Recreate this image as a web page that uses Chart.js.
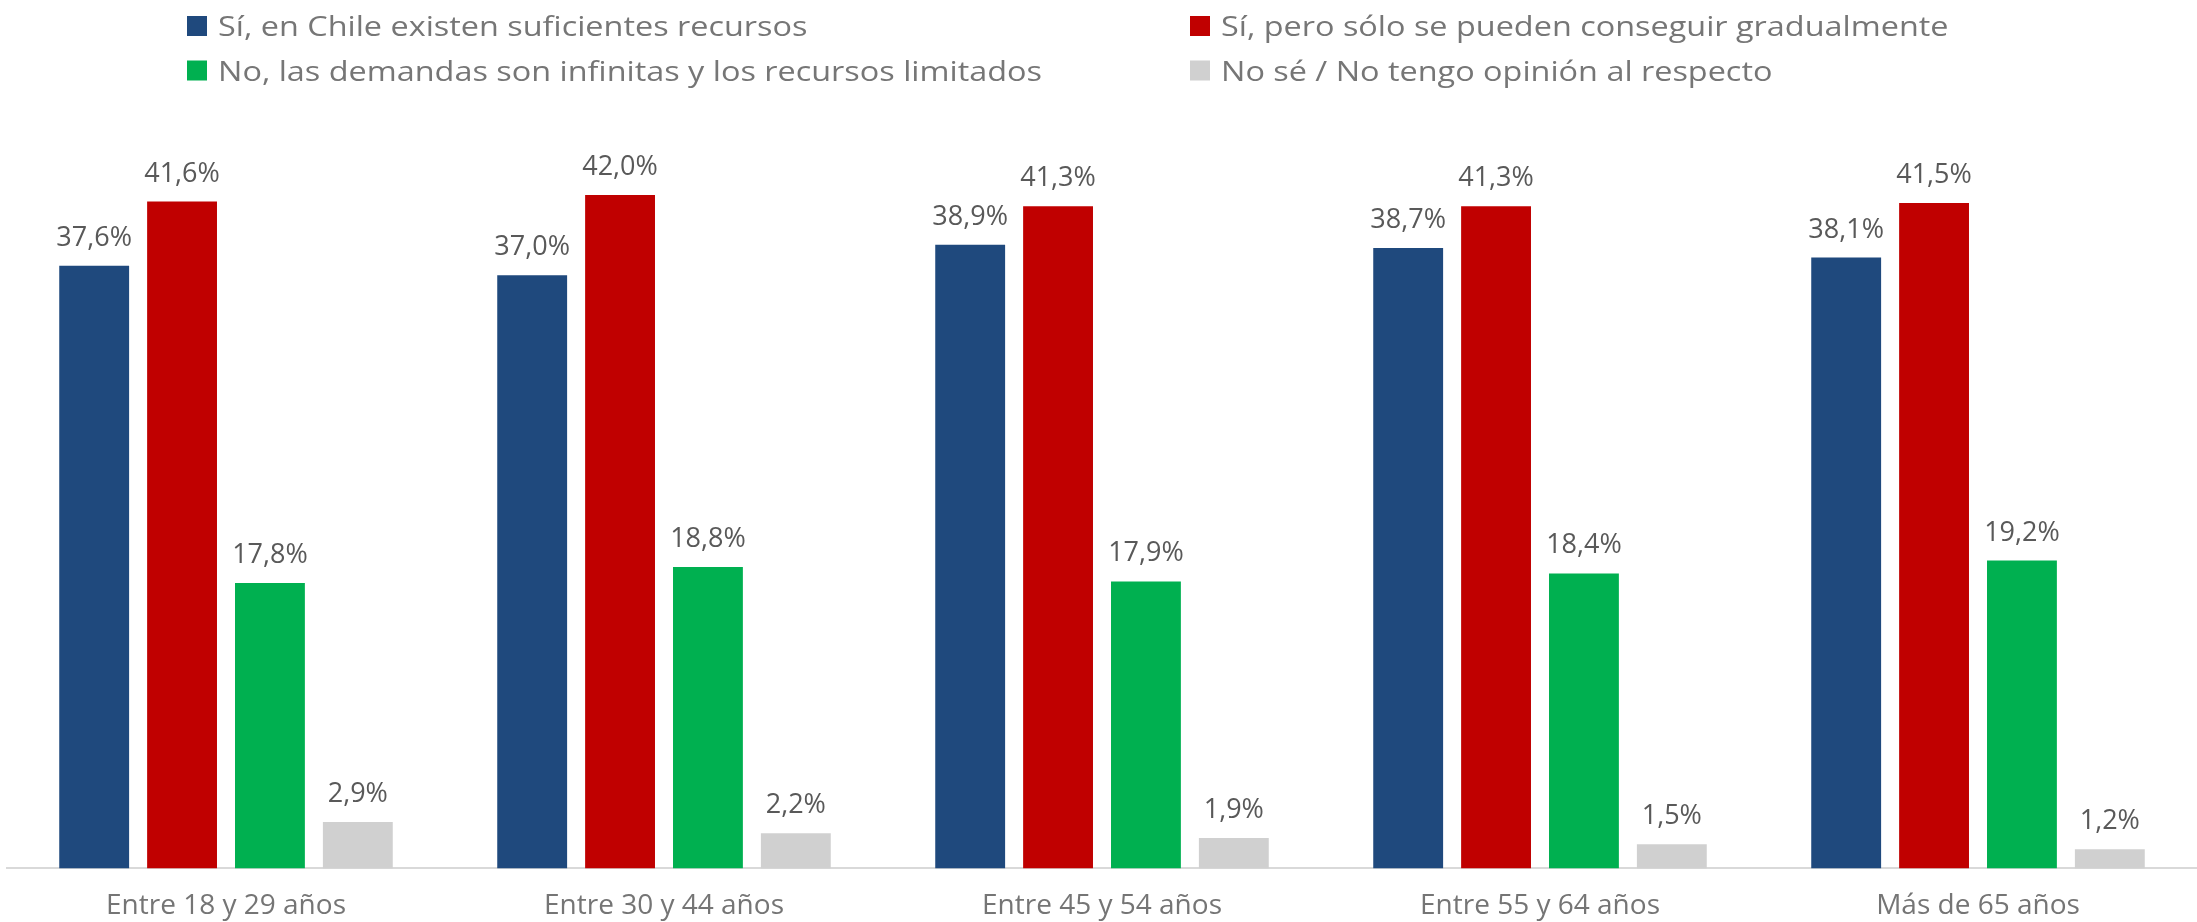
<!DOCTYPE html>
<html>
<head>
<meta charset="utf-8">
<script src="https://cdn.jsdelivr.net/npm/chart.js@4/dist/chart.umd.min.js"></script>
<style>
  html, body { margin: 0; padding: 0; background: #ffffff; }
  #c { display: block; }
</style>
</head>
<body>
<canvas id="c" width="2197" height="922"></canvas>
<script>
const categories = ["Entre 18 y 29 años", "Entre 30 y 44 años", "Entre 45 y 54 años", "Entre 55 y 64 años", "Más de 65 años"];
const seriesNames = [
  "Sí, en Chile existen suficientes recursos",
  "Sí, pero sólo se pueden conseguir gradualmente",
  "No, las demandas son infinitas y los recursos limitados",
  "No sé / No tengo opinión al respecto"
];
const suficientes = [37.6, 37.0, 38.9, 38.7, 38.1];
const gradualmente = [41.6, 42.0, 41.3, 41.3, 41.5];
const limitados = [17.8, 18.8, 17.9, 18.4, 19.2];
const noSabe = [2.9, 2.2, 1.9, 1.5, 1.2];
const colors = ["#1F497D", "#C00000", "#00B050", "#D0D0D0"];

const FONT = "'Open Sans', 'Liberation Sans', sans-serif";

const fmt = v => v.toFixed(1).replace('.', ',') + '%';

const dataLabelPlugin = {
  id: 'dataLabels',
  afterDatasetsDraw(chart) {
    const ctx = chart.ctx;
    ctx.save();
    ctx.font = "27px " + FONT;
    ctx.fillStyle = "#595959";
    ctx.textAlign = "center";
    ctx.textBaseline = "alphabetic";
    chart.data.datasets.forEach((ds, i) => {
      const meta = chart.getDatasetMeta(i);
      meta.data.forEach((bar, j) => {
        ctx.fillText(fmt(ds.data[j]), bar.x, bar.y - 20);
      });
    });
    ctx.restore();
  }
};

const gridLegendPlugin = {
  id: 'gridLegend',
  afterDraw(chart) {
    const ctx = chart.ctx;
    const colX = [187, 1190];
    const rowY = [26, 70.5];
    const box = 20;
    ctx.save();
    ctx.font = "27px " + FONT;
    ctx.textBaseline = "alphabetic";
    chart.data.datasets.forEach((ds, i) => {
      const col = i % 2, row = Math.floor(i / 2);
      const x = colX[col], cy = rowY[row];
      ctx.fillStyle = ds.backgroundColor;
      ctx.fillRect(x, cy - box / 2, box, box);
      ctx.fillStyle = "#767676";
      ctx.save();
      ctx.translate(x + box + 11, cy + 10);
      ctx.scale(1.2, 1);
      ctx.fillText(ds.label, 0, 0);
      ctx.restore();
    });
    ctx.restore();
  }
};

function draw() {
  new Chart(document.getElementById('c'), {
    type: 'bar',
    data: {
      labels: categories,
      datasets: [
        { label: seriesNames[0], data: suficientes, backgroundColor: colors[0] },
        { label: seriesNames[1], data: gradualmente, backgroundColor: colors[1] },
        { label: seriesNames[2], data: limitados, backgroundColor: colors[2] },
        { label: seriesNames[3], data: noSabe, backgroundColor: colors[3] }
      ]
    },
    options: {
      responsive: false,
      animation: false,
      categoryPercentage: 0.8026,
      barPercentage: 0.795,
      layout: { padding: { top: 147, left: 7, right: 0, bottom: -22 } },
      plugins: {
        legend: { display: false },
        tooltip: { enabled: false },
        title: { display: false }
      },
      scales: {
        x: {
          grid: { display: false, drawTicks: false },
          border: { display: true, color: "#D9D9D9", width: 2 },
          ticks: {
            color: "#757575",
            font: { family: FONT, size: 28 },
            padding: 21,
            maxRotation: 0
          }
        },
        y: {
          display: false,
          min: 0,
          max: 45
        }
      }
    },
    plugins: [dataLabelPlugin, gridLegendPlugin]
  });
}

if (document.fonts && document.fonts.load) {
  Promise.all([
    document.fonts.load("27px 'Open Sans'"),
    document.fonts.load("28px 'Open Sans'")
  ]).then(draw, draw);
} else {
  draw();
}
</script>
</body>
</html>
